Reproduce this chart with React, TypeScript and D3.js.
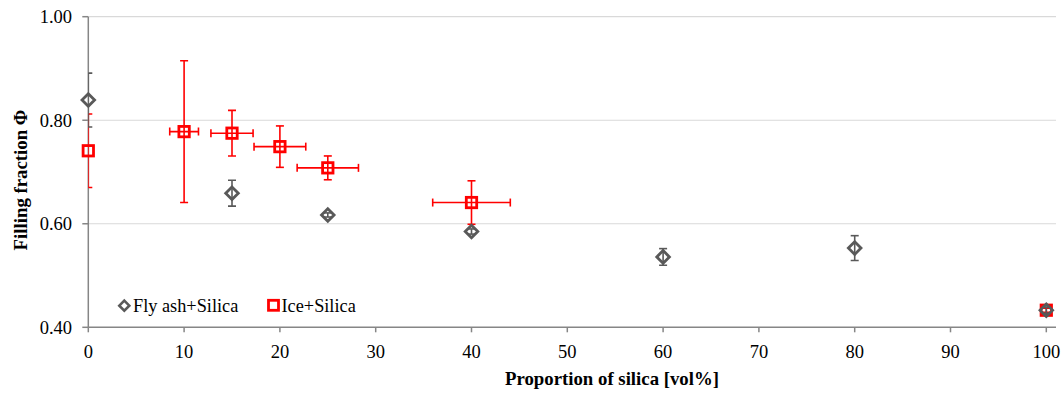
import React from "react";
import * as d3 from "d3";

const flyX = [0, 15, 25, 40, 60, 80, 100];
const flyY = [0.839, 0.659, 0.617, 0.585, 0.536, 0.553, 0.433];
const flyErrY = [0.052, 0.025, 0.004, 0.005, 0.016, 0.024, 0.006];

const iceX = [0, 10, 15, 20, 25, 40, 100];
const iceY = [0.741, 0.778, 0.775, 0.749, 0.708, 0.641, 0.433];
const iceErrY = [0.071, 0.137, 0.044, 0.04, 0.023, 0.042, 0.004];
const iceErrX = [0, 1.5, 2.2, 2.7, 3.2, 4.05, 0];

const xTicks = [0, 10, 20, 30, 40, 50, 60, 70, 80, 90, 100];
const yTicks = [0.4, 0.6, 0.8, 1.0];

const W = 1063;
const H = 396;
const left = 88.3;
const right = 1056;
const top = 16.7;
const bottom = 327.3;

export default function App() {
  const x = d3.scaleLinear().domain([0, 100]).range([left, 1046.3]);
  const y = d3.scaleLinear().domain([0.4, 1.0]).range([bottom, top]);
  const gray = "#595959";
  const red = "#ff0000";
  const axisCol = "#868686";
  const font = "'Liberation Serif', 'Times New Roman', serif";

  const diamond = (cx: number, cy: number, r: number) =>
    `M${cx},${cy - r}L${cx + r},${cy}L${cx},${cy + r}L${cx - r},${cy}Z`;

  return (
    <svg width={W} height={H} style={{ position: "absolute", left: 0, top: 0, background: "#fff" }}>
      <defs>
        <clipPath id="plotClip">
          <rect x={left} y={0} width={right - left} height={bottom} />
        </clipPath>
      </defs>
      {/* gridlines */}
      {yTicks.filter((t) => t > 0.4).map((t) => (
        <line key={t} x1={left} x2={right} y1={y(t)} y2={y(t)} stroke="#d9d9d9" strokeWidth={1.2} />
      ))}
      {/* y axis */}
      <line x1={left} x2={left} y1={top} y2={bottom} stroke={axisCol} strokeWidth={1.5} />
      {yTicks.map((t) => (
        <g key={t}>
          <line x1={left - 6} x2={left} y1={y(t)} y2={y(t)} stroke={axisCol} strokeWidth={1.5} />
          <text x={72} y={y(t) + 6.3} textAnchor="end" fontFamily={font} fontSize={18.5} fill="#000">
            {t.toFixed(2)}
          </text>
        </g>
      ))}
      {/* x axis */}
      <line x1={left} x2={right} y1={bottom} y2={bottom} stroke={axisCol} strokeWidth={1.5} />
      {xTicks.map((t) => (
        <g key={t}>
          <line x1={x(t)} x2={x(t)} y1={bottom} y2={bottom + 5} stroke={axisCol} strokeWidth={1.5} />
          <text x={x(t)} y={358} textAnchor="middle" fontFamily={font} fontSize={18.5} fill="#000">
            {t}
          </text>
        </g>
      ))}
      {/* error bars */}
      <g clipPath="url(#plotClip)">
        {iceX.map((v, i) => (
          <g key={"ie" + i} stroke={red} strokeWidth={1.6}>
            <line x1={x(v)} x2={x(v)} y1={y(iceY[i] - iceErrY[i])} y2={y(iceY[i] + iceErrY[i])} />
            <line x1={x(v) - 4} x2={x(v) + 4} y1={y(iceY[i] - iceErrY[i])} y2={y(iceY[i] - iceErrY[i])} />
            <line x1={x(v) - 4} x2={x(v) + 4} y1={y(iceY[i] + iceErrY[i])} y2={y(iceY[i] + iceErrY[i])} />
            {iceErrX[i] > 0 && (
              <>
                <line x1={x(v - iceErrX[i])} x2={x(v + iceErrX[i])} y1={y(iceY[i])} y2={y(iceY[i])} />
                <line x1={x(v - iceErrX[i])} x2={x(v - iceErrX[i])} y1={y(iceY[i]) - 4} y2={y(iceY[i]) + 4} />
                <line x1={x(v + iceErrX[i])} x2={x(v + iceErrX[i])} y1={y(iceY[i]) - 4} y2={y(iceY[i]) + 4} />
              </>
            )}
          </g>
        ))}
      </g>
      {iceX.map((v, i) => (
        <rect key={"im" + i} x={x(v) - 5.2} y={y(iceY[i]) - 5.2} width={10.4} height={10.4} fill="none" stroke={red} strokeWidth={2.8} />
      ))}
      <g clipPath="url(#plotClip)">
        {flyX.map((v, i) => (
          <g key={"fe" + i} stroke={gray} strokeWidth={1.6}>
            <line x1={x(v)} x2={x(v)} y1={y(flyY[i] - flyErrY[i])} y2={y(flyY[i] + flyErrY[i])} />
            <line x1={x(v) - 4} x2={x(v) + 4} y1={y(flyY[i] - flyErrY[i])} y2={y(flyY[i] - flyErrY[i])} />
            <line x1={x(v) - 4} x2={x(v) + 4} y1={y(flyY[i] + flyErrY[i])} y2={y(flyY[i] + flyErrY[i])} />
          </g>
        ))}
      </g>
      {flyX.map((v, i) => (
        <path key={"fm" + i} d={diamond(x(v), y(flyY[i]), 6.3)} fill="none" stroke={gray} strokeWidth={2.8} />
      ))}
      {/* legend */}
      <path d={diamond(124.3, 305.7, 5)} fill="none" stroke={gray} strokeWidth={2.6} />
      <text x={133} y={311.8} fontFamily={font} fontSize={18.3} fill="#000">Fly ash+Silica</text>
      <rect x={268.5} y={300.3} width={10} height={10} fill="none" stroke={red} strokeWidth={2.8} />
      <text x={281.5} y={311.8} fontFamily={font} fontSize={18.3} fill="#000">Ice+Silica</text>
      {/* axis titles */}
      <text x={612} y={385} textAnchor="middle" fontFamily={font} fontWeight="bold" fontSize={18.8} fill="#000">
        Proportion of silica [vol%]
      </text>
      <text transform="translate(27,180) rotate(-90)" textAnchor="middle" fontFamily={font} fontWeight="bold" fontSize={18.8} fill="#000">
        Filling fraction Φ
      </text>
    </svg>
  );
}
